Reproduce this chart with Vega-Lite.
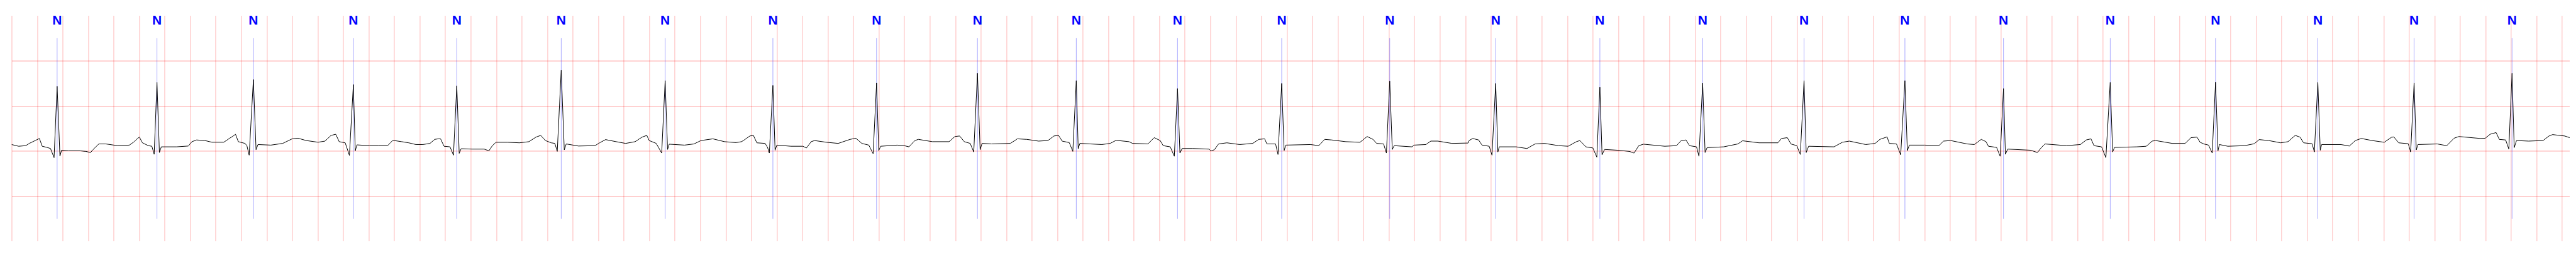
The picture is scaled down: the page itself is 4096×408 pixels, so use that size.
{
"$schema": "https://vega.github.io/schema/vega-lite/v6.json",
"width": 4067.6,
"height": 359,
"autosize": {"type": "none"},
"padding": {"left": 18.4, "top": 24.4, "right": 0, "bottom": 0},
"background": "white",
"config": {"view": {"stroke": null}},
"datasets": {
"beats": [
{"t":0.357,"label":"N"},{"t":1.140,"label":"N"},{"t":1.896,"label":"N"},{"t":2.680,"label":"N"},{"t":3.491,"label":"N"},
{"t":4.310,"label":"N"},{"t":5.125,"label":"N"},{"t":5.970,"label":"N"},{"t":6.783,"label":"N"},{"t":7.574,"label":"N"},
{"t":8.349,"label":"N"},{"t":9.143,"label":"N"},{"t":9.960,"label":"N"},{"t":10.807,"label":"N"},{"t":11.638,"label":"N"},
{"t":12.455,"label":"N"},{"t":13.261,"label":"N"},{"t":14.056,"label":"N"},{"t":14.847,"label":"N"},{"t":15.620,"label":"N"},
{"t":16.457,"label":"N"},{"t":17.283,"label":"N"},{"t":18.085,"label":"N"},{"t":18.840,"label":"N"},{"t":19.608,"label":"N"}
],
"ecg": [
{"t":0.000,"v":-0.356},{"t":0.055,"v":-0.394},{"t":0.111,"v":-0.381},{"t":0.139,"v":-0.331},{"t":0.185,"v":-0.268},{"t":0.218,"v":-0.222},{"t":0.240,"v":-0.394},{"t":0.277,"v":-0.419},{"t":0.305,"v":-0.444},{"t":0.333,"v":-0.646},{"t":0.357,"v":0.93},{"t":0.379,"v":-0.611},{"t":0.392,"v":-0.482},{"t":0.444,"v":-0.495},{"t":0.536,"v":-0.495},{"t":0.582,"v":-0.508},{"t":0.619,"v":-0.533},{"t":0.638,"v":-0.47},{"t":0.684,"v":-0.343},{"t":0.739,"v":-0.343},{"t":0.832,"v":-0.381},{"t":0.924,"v":-0.369},{"t":0.961,"v":-0.293},{"t":0.980,"v":-0.242},{"t":1.002,"v":-0.19},{"t":1.026,"v":-0.318},{"t":1.072,"v":-0.381},{"t":1.100,"v":-0.394},{"t":1.118,"v":-0.571},{"t":1.140,"v":1.02},{"t":1.159,"v":-0.533},{"t":1.174,"v":-0.407},{"t":1.294,"v":-0.407},{"t":1.386,"v":-0.389},{"t":1.414,"v":-0.293},{"t":1.451,"v":-0.255},{"t":1.516,"v":-0.268},{"t":1.571,"v":-0.305},{"t":1.664,"v":-0.305},{"t":1.710,"v":-0.217},{"t":1.738,"v":-0.167},{"t":1.756,"v":-0.129},{"t":1.778,"v":-0.293},{"t":1.830,"v":-0.331},{"t":1.845,"v":-0.38},{"t":1.863,"v":-0.591},{"t":1.896,"v":1.08},{"t":1.917,"v":-0.47},{"t":1.932,"v":-0.356},{"t":2.033,"v":-0.369},{"t":2.126,"v":-0.331},{"t":2.200,"v":-0.23},{"t":2.246,"v":-0.217},{"t":2.311,"v":-0.268},{"t":2.403,"v":-0.305},{"t":2.458,"v":-0.28},{"t":2.505,"v":-0.154},{"t":2.542,"v":-0.129},{"t":2.569,"v":-0.293},{"t":2.616,"v":-0.318},{"t":2.649,"v":-0.596},{"t":2.680,"v":0.97},{"t":2.695,"v":-0.495},{"t":2.708,"v":-0.364},{"t":2.806,"v":-0.381},
{"t":2.874,"v":-0.381},{"t":2.948,"v":-0.381},{"t":2.966,"v":-0.331},{"t":2.989,"v":-0.263},{"t":3.059,"v":-0.293},{"t":3.114,"v":-0.318},{"t":3.170,"v":-0.356},{"t":3.225,"v":-0.356},{"t":3.281,"v":-0.331},{"t":3.318,"v":-0.242},{"t":3.345,"v":-0.23},{"t":3.364,"v":-0.23},{"t":3.391,"v":-0.394},{"t":3.438,"v":-0.407},{"t":3.465,"v":-0.591},{"t":3.491,"v":0.944},{"t":3.510,"v":-0.551},{"t":3.525,"v":-0.449},{"t":3.613,"v":-0.457},{"t":3.706,"v":-0.457},{"t":3.743,"v":-0.495},{"t":3.770,"v":-0.381},{"t":3.798,"v":-0.306},{"t":3.891,"v":-0.306},{"t":3.983,"v":-0.318},{"t":4.057,"v":-0.293},{"t":4.112,"v":-0.192},{"t":4.149,"v":-0.154},{"t":4.186,"v":-0.268},{"t":4.232,"v":-0.318},{"t":4.260,"v":-0.331},{"t":4.279,"v":-0.508},{"t":4.310,"v":1.29},{"t":4.334,"v":-0.475},{"t":4.349,"v":-0.343},{"t":4.445,"v":-0.389},{"t":4.575,"v":-0.381},{"t":4.611,"v":-0.318},{"t":4.658,"v":-0.247},{"t":4.741,"v":-0.293},{"t":4.815,"v":-0.331},{"t":4.889,"v":-0.293},{"t":4.944,"v":-0.192},{"t":4.981,"v":-0.154},{"t":5.000,"v":-0.268},{"t":5.055,"v":-0.331},{"t":5.098,"v":-0.545},{"t":5.125,"v":1.058},{"t":5.144,"v":-0.465},{"t":5.157,"v":-0.348},{"t":5.277,"v":-0.369},{"t":5.351,"v":-0.343},{"t":5.406,"v":-0.268},{"t":5.499,"v":-0.23},{"t":5.591,"v":-0.293},{"t":5.680,"v":-0.313},
{"t":5.724,"v":-0.293},{"t":5.752,"v":-0.242},{"t":5.789,"v":-0.167},{"t":5.817,"v":-0.154},{"t":5.844,"v":-0.318},{"t":5.909,"v":-0.331},{"t":5.928,"v":-0.419},{"t":5.942,"v":-0.545},{"t":5.970,"v":0.952},{"t":5.987,"v":-0.482},{"t":6.001,"v":-0.369},{"t":6.112,"v":-0.394},{"t":6.205,"v":-0.394},{"t":6.233,"v":-0.432},{"t":6.270,"v":-0.293},{"t":6.297,"v":-0.268},{"t":6.390,"v":-0.306},{"t":6.482,"v":-0.331},{"t":6.575,"v":-0.242},{"t":6.621,"v":-0.217},{"t":6.667,"v":-0.331},{"t":6.722,"v":-0.369},{"t":6.756,"v":-0.558},{"t":6.783,"v":1.003},{"t":6.800,"v":-0.49},{"t":6.815,"v":-0.394},{"t":6.944,"v":-0.369},{"t":7.000,"v":-0.381},{"t":7.037,"v":-0.407},{"t":7.083,"v":-0.268},{"t":7.111,"v":-0.242},{"t":7.221,"v":-0.293},{"t":7.351,"v":-0.293},{"t":7.397,"v":-0.179},{"t":7.434,"v":-0.167},{"t":7.471,"v":-0.293},{"t":7.517,"v":-0.331},{"t":7.545,"v":-0.52},{"t":7.574,"v":1.22},{"t":7.595,"v":-0.47},{"t":7.610,"v":-0.331},{"t":7.684,"v":-0.343},{"t":7.832,"v":-0.331},{"t":7.887,"v":-0.23},{"t":7.961,"v":-0.242},{"t":8.053,"v":-0.28},{"t":8.127,"v":-0.268},{"t":8.174,"v":-0.167},{"t":8.210,"v":-0.154},{"t":8.238,"v":-0.28},{"t":8.294,"v":-0.313},{"t":8.322,"v":-0.508},{"t":8.349,"v":1.058},{"t":8.364,"v":-0.449},{"t":8.377,"v":-0.331},{"t":8.549,"v":-0.356},
{"t":8.615,"v":-0.331},{"t":8.661,"v":-0.263},{"t":8.763,"v":-0.293},{"t":8.790,"v":-0.331},{"t":8.911,"v":-0.343},{"t":8.960,"v":-0.204},{"t":9.007,"v":-0.268},{"t":9.031,"v":-0.381},{"t":9.086,"v":-0.407},{"t":9.118,"v":-0.616},{"t":9.143,"v":0.881},{"t":9.162,"v":-0.545},{"t":9.179,"v":-0.444},{"t":9.262,"v":-0.444},{"t":9.391,"v":-0.457},{"t":9.406,"v":-0.5},{"t":9.432,"v":-0.47},{"t":9.465,"v":-0.343},{"t":9.530,"v":-0.318},{"t":9.631,"v":-0.356},{"t":9.733,"v":-0.331},{"t":9.779,"v":-0.242},{"t":9.826,"v":-0.23},{"t":9.844,"v":-0.343},{"t":9.912,"v":-0.343},{"t":9.931,"v":-0.576},{"t":9.960,"v":0.995},{"t":9.979,"v":-0.49},{"t":9.992,"v":-0.369},{"t":10.186,"v":-0.356},{"t":10.251,"v":-0.381},{"t":10.297,"v":-0.242},{"t":10.352,"v":-0.255},{"t":10.463,"v":-0.293},{"t":10.574,"v":-0.306},{"t":10.630,"v":-0.179},{"t":10.676,"v":-0.242},{"t":10.704,"v":-0.331},{"t":10.759,"v":-0.343},{"t":10.781,"v":-0.545},{"t":10.807,"v":1.045},{"t":10.827,"v":-0.465},{"t":10.842,"v":-0.381},{"t":10.981,"v":-0.407},{"t":10.998,"v":-0.369},{"t":11.091,"v":-0.356},{"t":11.129,"v":-0.28},{"t":11.184,"v":-0.28},{"t":11.295,"v":-0.331},{"t":11.421,"v":-0.323},
{"t":11.430,"v":-0.268},{"t":11.457,"v":-0.222},{"t":11.504,"v":-0.255},{"t":11.531,"v":-0.369},{"t":11.587,"v":-0.394},{"t":11.609,"v":-0.591},{"t":11.638,"v":0.995},{"t":11.655,"v":-0.52},{"t":11.666,"v":-0.407},{"t":11.799,"v":-0.407},{"t":11.883,"v":-0.444},{"t":11.947,"v":-0.343},{"t":12.021,"v":-0.331},{"t":12.132,"v":-0.381},{"t":12.206,"v":-0.394},{"t":12.271,"v":-0.293},{"t":12.298,"v":-0.268},{"t":12.345,"v":-0.407},{"t":12.400,"v":-0.432},{"t":12.431,"v":-0.634},{"t":12.455,"v":0.914},{"t":12.472,"v":-0.583},{"t":12.492,"v":-0.465},{"t":12.594,"v":-0.482},{"t":12.687,"v":-0.508},{"t":12.723,"v":-0.545},{"t":12.760,"v":-0.381},{"t":12.797,"v":-0.348},{"t":12.964,"v":-0.394},{"t":13.056,"v":-0.381},{"t":13.093,"v":-0.268},{"t":13.130,"v":-0.255},{"t":13.158,"v":-0.381},{"t":13.213,"v":-0.407},{"t":13.232,"v":-0.616},{"t":13.261,"v":1.0},{"t":13.280,"v":-0.533},{"t":13.296,"v":-0.424},{"t":13.426,"v":-0.407},{"t":13.537,"v":-0.343},{"t":13.574,"v":-0.273},{"t":13.703,"v":-0.318},{"t":13.851,"v":-0.318},{"t":13.879,"v":-0.222},{"t":13.925,"v":-0.204},{"t":13.953,"v":-0.343},{"t":13.999,"v":-0.381},{"t":14.027,"v":-0.576},{"t":14.056,"v":1.058},{"t":14.073,"v":-0.533},{"t":14.092,"v":-0.394},{"t":14.291,"v":-0.407},
{"t":14.356,"v":-0.306},{"t":14.411,"v":-0.28},{"t":14.540,"v":-0.356},{"t":14.614,"v":-0.331},{"t":14.651,"v":-0.242},{"t":14.707,"v":-0.187},{"t":14.725,"v":-0.331},{"t":14.781,"v":-0.343},{"t":14.814,"v":-0.583},{"t":14.847,"v":1.058},{"t":14.866,"v":-0.49},{"t":14.882,"v":-0.369},{"t":15.003,"v":-0.369},{"t":15.114,"v":-0.381},{"t":15.150,"v":-0.28},{"t":15.206,"v":-0.268},{"t":15.335,"v":-0.343},{"t":15.391,"v":-0.356},{"t":15.446,"v":-0.242},{"t":15.483,"v":-0.293},{"t":15.502,"v":-0.394},{"t":15.566,"v":-0.419},{"t":15.594,"v":-0.616},{"t":15.620,"v":0.881},{"t":15.635,"v":-0.571},{"t":15.653,"v":-0.457},{"t":15.834,"v":-0.482},{"t":15.886,"v":-0.533},{"t":15.918,"v":-0.419},{"t":15.945,"v":-0.343},{"t":16.112,"v":-0.381},{"t":16.223,"v":-0.356},{"t":16.269,"v":-0.255},{"t":16.306,"v":-0.23},{"t":16.330,"v":-0.381},{"t":16.389,"v":-0.407},{"t":16.423,"v":-0.646},{"t":16.457,"v":1.02},{"t":16.476,"v":-0.52},{"t":16.491,"v":-0.419},{"t":16.666,"v":-0.407},{"t":16.740,"v":-0.394},{"t":16.786,"v":-0.28},{"t":16.814,"v":-0.268},{"t":16.943,"v":-0.331},{"t":17.045,"v":-0.331},{"t":17.091,"v":-0.204},{"t":17.137,"v":-0.192},{"t":17.162,"v":-0.306},
{"t":17.191,"v":-0.343},{"t":17.228,"v":-0.369},{"t":17.257,"v":-0.545},{"t":17.283,"v":1.025},{"t":17.302,"v":-0.495},{"t":17.313,"v":-0.356},{"t":17.379,"v":-0.394},{"t":17.511,"v":-0.381},{"t":17.587,"v":-0.338},{"t":17.625,"v":-0.247},{"t":17.700,"v":-0.268},{"t":17.794,"v":-0.318},{"t":17.851,"v":-0.293},{"t":17.908,"v":-0.154},{"t":17.945,"v":-0.192},{"t":17.974,"v":-0.318},{"t":18.040,"v":-0.338},{"t":18.058,"v":-0.52},{"t":18.085,"v":1.02},{"t":18.104,"v":-0.482},{"t":18.115,"v":-0.356},{"t":18.266,"v":-0.356},{"t":18.332,"v":-0.389},{"t":18.379,"v":-0.268},{"t":18.426,"v":-0.222},{"t":18.511,"v":-0.268},{"t":18.606,"v":-0.306},{"t":18.662,"v":-0.197},{"t":18.681,"v":-0.187},{"t":18.719,"v":-0.318},{"t":18.794,"v":-0.338},{"t":18.813,"v":-0.52},{"t":18.840,"v":1.003},{"t":18.857,"v":-0.475},{"t":18.870,"v":-0.356},{"t":19.021,"v":-0.343},{"t":19.096,"v":-0.381},{"t":19.153,"v":-0.217},{"t":19.191,"v":-0.179},{"t":19.360,"v":-0.222},{"t":19.398,"v":-0.217},{"t":19.436,"v":-0.129},{"t":19.483,"v":-0.091},{"t":19.508,"v":-0.242},{"t":19.558,"v":-0.255},{"t":19.583,"v":-0.457},{"t":19.608,"v":1.22},{"t":19.625,"v":-0.424},{"t":19.643,"v":-0.268},{"t":19.738,"v":-0.28},{"t":19.851,"v":-0.268},{"t":19.898,"v":-0.167},{"t":19.926,"v":-0.136},{"t":20.021,"v":-0.167},{"t":20.06,"v":-0.204}
]
},
"layer": [
{
"data": {"name": "ecg"},
"mark": {"type": "line", "color": "black", "strokeWidth": 1.0, "clip": true, "opacity": 0},
"encoding": {
"x": {"field": "t", "type": "quantitative",
"scale": {"domain": [0, 20.06], "nice": false, "zero": false},
"axis": {"values": [0,0.2,0.4,0.6,0.8,1,1.2,1.4,1.6,1.8,2,2.2,2.4,2.6,2.8,3,3.2,3.4,3.6,3.8,4,4.2,4.4,4.6,4.8,5,5.2,5.4,5.6,5.8,6,6.2,6.4,6.6,6.8,7,7.2,7.4,7.6,7.8,8,8.2,8.4,8.6,8.8,9,9.2,9.4,9.6,9.8,10,10.2,10.4,10.6,10.8,11,11.2,11.4,11.6,11.8,12,12.2,12.4,12.6,12.8,13,13.2,13.4,13.6,13.8,14,14.2,14.4,14.6,14.8,15,15.2,15.4,15.6,15.8,16,16.2,16.4,16.6,16.8,17,17.2,17.4,17.6,17.8,18,18.2,18.4,18.6,18.8,19,19.2,19.4,19.6,19.8,20],
"grid": true, "gridColor": "#ff0000", "gridOpacity": 0.26, "gridWidth": 1.1,
"labels": false, "ticks": false, "domain": false, "title": null}},
"y": {"field": "v", "type": "quantitative",
"scale": {"domain": [-2.5, 2.5], "nice": false, "zero": false},
"axis": {"values": [-2.5,-2,-1.5,-1,-0.5,0,0.5,1,1.5,2],
"grid": true, "gridColor": "#ff0000", "gridOpacity": 0.3, "gridWidth": 1.4,
"labels": false, "ticks": false, "domain": false, "title": null}}
}
},
{
"data": {"name": "beats"},
"mark": {"type": "rule", "color": "#0000ff", "strokeWidth": 0.7, "opacity": 0.5},
"encoding": {
"x": {"field": "t", "type": "quantitative"},
"y": {"datum": 2.0, "type": "quantitative"},
"y2": {"datum": -2.0}
}
},
{
"data": {"name": "ecg"},
"mark": {"type": "line", "color": "black", "strokeWidth": 1.0, "clip": true},
"encoding": {
"x": {"field": "t", "type": "quantitative"},
"y": {"field": "v", "type": "quantitative"}
}
},
{
"data": {"name": "beats"},
"mark": {"type": "text", "color": "#0000ff", "font": "Liberation Sans", "fontWeight": "bold", "fontSize": 21, "baseline": "alphabetic", "align": "center", "dy": 14.2},
"encoding": {
"x": {"field": "t", "type": "quantitative"},
"y": {"datum": 2.5, "type": "quantitative"},
"text": {"field": "label"}
}
}
]
}
